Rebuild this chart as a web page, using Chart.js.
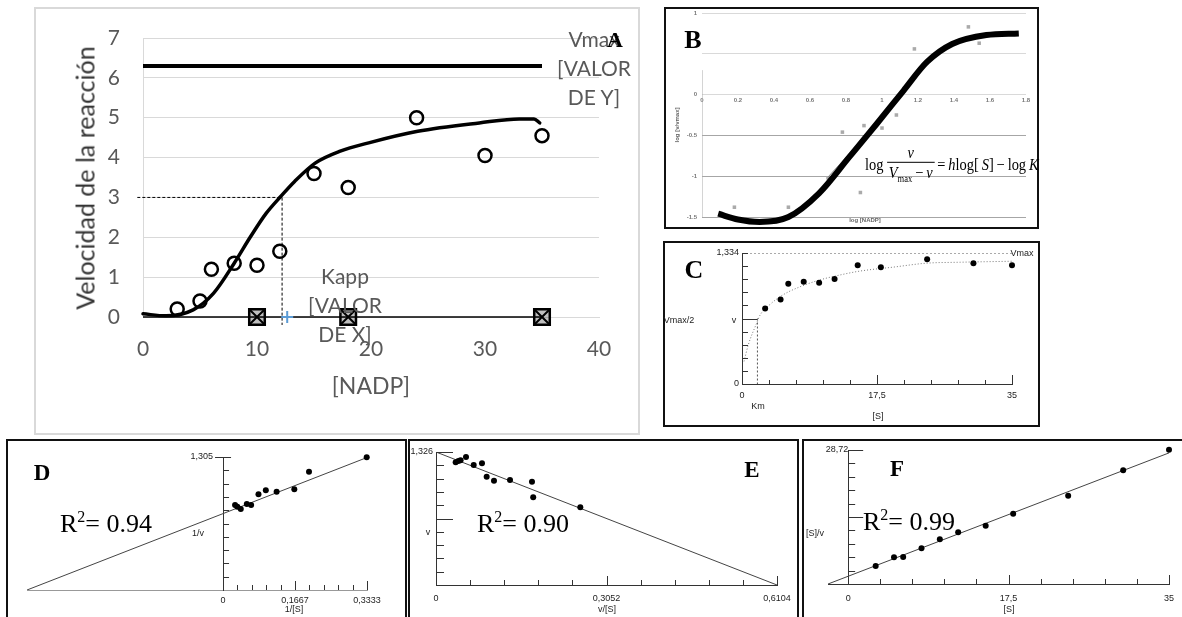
<!DOCTYPE html>
<html>
<head>
<meta charset="utf-8">
<script src="https://cdn.jsdelivr.net/npm/chart.js@4.4.0/dist/chart.umd.min.js"></script>
<style>
body{margin:0;width:1182px;height:617px;overflow:hidden;background:#fff;position:relative;font-family:"Liberation Sans",Arial,sans-serif}
.box{position:absolute;box-sizing:border-box}
canvas{position:absolute}
.t{position:absolute;white-space:nowrap;line-height:1;transform:translate(-50%,-50%)}
.lt{position:absolute;white-space:nowrap;line-height:1;transform:translate(0,-50%)}
.ser{font-family:"Liberation Serif","Times New Roman",serif}
.let{font-family:"Liberation Serif","Times New Roman",serif;font-weight:bold;color:#000}
.sm{font-size:9px;color:#222}
.xl{font-family:Lato,"Liberation Sans",sans-serif;color:#595959}
</style>
</head>
<body>
<div class="box" style="left:34px;top:7px;width:606px;height:428px;border:2px solid #d9d9d9"></div>
<div class="box" style="left:664px;top:7px;width:375px;height:222px;border:2px solid #111"></div>
<div class="box" style="left:663px;top:241px;width:377px;height:186px;border:2px solid #111"></div>
<div class="box" style="left:6px;top:439px;width:401px;height:185px;border:2px solid #111"></div>
<div class="box" style="left:408px;top:439px;width:391px;height:185px;border:2px solid #111"></div>
<div class="box" style="left:802px;top:439px;width:382px;height:185px;border:2px solid #111"></div>

<canvas id="cA"></canvas>
<canvas id="cB"></canvas>
<canvas id="cC"></canvas>
<canvas id="cD"></canvas>
<canvas id="cE"></canvas>
<canvas id="cF"></canvas>

<!-- panel A texts -->
<div class="t xl" style="left:85px;top:178px;font-size:25px;color:#333;transform:translate(-50%,-50%) rotate(-90deg)">Velocidad de la reacción</div>
<div class="t xl" style="left:371px;top:385px;font-size:23px">[NADP]</div>
<div class="t xl" style="left:594px;top:67px;font-size:21px;line-height:29px;text-align:center">Vmax<br>[VALOR<br>DE Y]</div>
<div class="t xl" style="left:345px;top:304px;font-size:21px;line-height:29px;text-align:center">Kapp<br>[VALOR<br>DE X]</div>
<div class="t let" style="left:615px;top:40px;font-size:22px">A</div>

<!-- panel B texts -->
<div class="t let" style="left:693px;top:40px;font-size:26px">B</div>
<div class="t" style="left:865px;top:220px;font-size:6px;font-weight:bold;color:#666">log [NADP]</div>
<div class="t" style="left:677px;top:125px;font-size:6px;font-weight:bold;color:#666;transform:translate(-50%,-50%) rotate(-90deg)">log [v/vmax]</div>
<div class="lt ser" style="left:865px;top:164px;font-size:17px;display:flex;align-items:center;transform:translate(0,-50%) scaleX(0.85);transform-origin:left center">
  <span>log&nbsp;</span>
  <span style="display:inline-flex;flex-direction:column;align-items:center">
    <span style="font-style:italic;padding:0 4px 1px">v</span>
    <span style="border-top:1px solid #000;padding:1px 2px 0"><i>V</i><sub style="font-size:10px">max</sub>&thinsp;−&thinsp;<i>v</i></span>
  </span>
  <span>&thinsp;=&thinsp;<i>h</i>log[&thinsp;<i>S</i>]&thinsp;−&thinsp;log&thinsp;<i>K</i></span>
</div>

<!-- panel C texts -->
<div class="t let" style="left:694px;top:270px;font-size:26px">C</div>
<div class="t sm" style="left:1022px;top:253px">Vmax</div>
<div class="t sm" style="left:679px;top:320px">Vmax/2</div>
<div class="t sm" style="left:734px;top:320px">v</div>
<div class="t sm" style="left:758px;top:406px">Km</div>
<div class="t sm" style="left:878px;top:416px">[S]</div>

<!-- panel D texts -->
<div class="t let" style="left:42px;top:472px;font-size:23px">D</div>
<div class="t sm" style="left:198px;top:533px">1/v</div>
<div class="t sm" style="left:294px;top:609px">1/[S]</div>
<div class="lt ser" style="left:60px;top:523px;font-size:26px">R<sup style="font-size:16px">2</sup>= 0.94</div>

<!-- panel E texts -->
<div class="t let" style="left:752px;top:469px;font-size:23px">E</div>
<div class="t sm" style="left:428px;top:532px">v</div>
<div class="t sm" style="left:607px;top:609px">v/[S]</div>
<div class="lt ser" style="left:477px;top:523px;font-size:26px">R<sup style="font-size:16px">2</sup>= 0.90</div>

<!-- panel F texts -->
<div class="t let" style="left:897px;top:468px;font-size:23px">F</div>
<div class="t sm" style="left:815px;top:533px">[S]/v</div>
<div class="t sm" style="left:1009px;top:609px">[S]</div>
<div class="lt ser" style="left:863px;top:521px;font-size:26px">R<sup style="font-size:16px">2</sup>= 0.99</div>

<script>
// ---- A: velocidad vs [NADP]
var aNADP = [3, 5, 6, 8, 10, 12, 15, 18, 24, 30, 35];
var aVel = [0.2, 0.4, 1.2, 1.35, 1.3, 1.65, 3.6, 3.25, 5.0, 4.05, 4.55];
var aFitX = [0, 2, 4.4, 6.2, 8, 9.4, 10.8, 12.1, 13.3, 15.1, 17.3, 19.8, 24.1, 29.5, 33, 34.3, 34.8];
var aFitY = [0.08, 0.03, 0.18, 0.6, 1.35, 2.0, 2.6, 3.03, 3.4, 3.86, 4.16, 4.37, 4.66, 4.87, 4.97, 4.97, 4.87];
var aVmax = 6.3;
var aVmaxX = [0, 35];
var aBaseX = [0, 10, 18, 35];
var aBaseY = [0, 0, 0, 0];
var aKapp = 12.2, aHalf = 3, aBlue = 12.65;
var aXTicks = [0, 10, 20, 30, 40];
var aYTicks = [0, 1, 2, 3, 4, 5, 6, 7];

// ---- B: Hill plot
var bLogS = [0.18, 0.48, 0.70, 0.78, 0.88, 0.90, 1.00, 1.08, 1.18, 1.25, 1.48, 1.54];
var bLogV = [-1.38, -1.38, -1.02, -0.46, -1.20, -0.38, -0.41, -0.25, 0.56, 0.39, 0.83, 0.63];
var bCurveX = [0.09, 0.2, 0.32, 0.48, 0.65, 0.82, 0.97, 1.12, 1.25, 1.39, 1.58, 1.76];
var bCurveY = [-1.46, -1.53, -1.56, -1.50, -1.21, -0.76, -0.36, 0.05, 0.40, 0.62, 0.73, 0.75];
var bThinX = [0.70, 1.04];
var bThinY = [-1.01, -0.19];
var bAxisY = [-1.5, 0.3];
var bXTicks = [0, 0.2, 0.4, 0.6, 0.8, 1, 1.2, 1.4, 1.6, 1.8];
var bXLabels = ['0', '0.2', '0.4', '0.6', '0.8', '1', '1.2', '1.4', '1.6', '1.8'];
var bYTicks = [-1.5, -1, -0.5, 0, 0.5, 1];
var bYLabels = ['-1.5', '-1', '-0.5', '0', '', '1'];

// ---- C: Michaelis-Menten
var cS = [3, 5, 6, 8, 10, 12, 15, 18, 24, 30, 35];
var cV = [0.77, 0.86, 1.02, 1.04, 1.03, 1.07, 1.21, 1.19, 1.27, 1.23, 1.21];
var cFitS = [0.26, 0.82, 1.9, 2.33, 3.63, 5.36, 7.52, 10.1, 12.7, 15.3, 19.6, 23.9, 28.3, 35];
var cFitV = [0.23, 0.40, 0.62, 0.70, 0.81, 0.91, 0.99, 1.06, 1.11, 1.15, 1.19, 1.23, 1.24, 1.25];
var cVmax = 1.334, cKm = 2.0;
var cXLabels = ['0', '', '', '', '', '17,5', '', '', '', '', '35'];
var cYLabels = ['0', '', '', '', '', '', '', '', '', '', '1,334'];

// ---- D: Lineweaver-Burk
var dInvS = [0.0278, 0.033, 0.041, 0.055, 0.065, 0.082, 0.099, 0.124, 0.165, 0.199, 0.3326];
var dInvV = [0.834, 0.817, 0.795, 0.844, 0.834, 0.939, 0.978, 0.965, 0.988, 1.161, 1.302];
var dFitX = [-0.454, 0.3333];
var dFitY = [0, 1.30];
var dXLabels = ['0', '', '', '', '', '0,1667', '', '', '', '', '0,3333'];
var dYLabels = ['', '', '', '', '', '', '', '', '', '', '1,305    '];

// ---- E: Eadie-Hofstee
var eVS = [0.0352, 0.040, 0.044, 0.0537, 0.0675, 0.0823, 0.0907, 0.1038, 0.1325, 0.1718, 0.174, 0.2583];
var eV = [1.223, 1.236, 1.243, 1.276, 1.196, 1.213, 1.080, 1.040, 1.047, 1.030, 0.874, 0.775];
var eFitX = [0, 0.6104];
var eFitY = [1.326, 0];
var eXLabels = ['0', '', '', '', '', '0,3052', '', '', '', '', '0,6104'];
var eYLabels = ['', '', '', '', '', '', '', '', '', '', '1,326'];

// ---- F: Hanes-Woolf
var fS = [3, 5, 6, 8, 10, 12, 15, 18, 24, 30, 35];
var fSV = [3.86, 5.72, 5.79, 7.65, 9.57, 11.07, 12.5, 15.07, 18.93, 24.36, 28.78];
var fFitX = [-2.2, 35];
var fFitY = [0, 28.1];
var fXLabels = ['0', '', '', '', '', '17,5', '', '', '', '', '35'];
var fYLabels = ['', '', '', '', '', '', '', '', '', '', '28,72'];

Chart.defaults.animation = false;
Chart.defaults.responsive = false;
Chart.defaults.devicePixelRatio = 1;
Chart.defaults.plugins.legend.display = false;
Chart.defaults.plugins.tooltip.enabled = false;
Chart.defaults.font.family = '"Liberation Sans", Arial, sans-serif';

function xy(xs, ys) { return xs.map(function (x, i) { return {x: x, y: ys[i]}; }); }
function tenths(max) { var t = []; for (var i = 0; i <= 10; i++) t.push(max * i / 10); return t; }
function setup(id, box, area) {
  var c = document.getElementById(id);
  c.width = box.r - box.l; c.height = box.b - box.t;
  c.style.left = box.l + 'px'; c.style.top = box.t + 'px';
  return {el: c, yW: area.l - box.l, xH: box.b - area.b,
          padding: {left: 0, top: area.t - box.t, right: box.r - area.r, bottom: 0}};
}
function fixTicks(vals) { return function (s) { s.ticks = vals.map(function (v) { return {value: v}; }); }; }
function noPad(s) { s.paddingLeft = 0; s.paddingRight = 0; s.paddingTop = 0; s.paddingBottom = 0; }
function fitW(w) { return function (s) { s.width = w; noPad(s); }; }
function fitH(h) { return function (s) { s.height = h; noPad(s); }; }
function line(d, o) {
  var base = {data: d, showLine: true, pointRadius: 0, borderColor: '#000', borderWidth: 1, fill: false};
  for (var k in o) base[k] = o[k];
  return base;
}
function dots(d, r) {
  return {data: d, showLine: false, pointRadius: r, pointStyle: 'circle', backgroundColor: '#000', borderColor: '#000', borderWidth: 0, clip: false};
}

// small tick marks drawn inside the plot, from the axis lines
var innerTicks = {
  id: 'innerTicks',
  afterDraw: function (chart, args, o) {
    if (!o || !o.on) return;
    var ctx = chart.ctx, xs = chart.scales.x, ys = chart.scales.y;
    var x0 = xs.getPixelForValue(0), y0 = ys.getPixelForValue(0);
    ctx.save();
    ctx.strokeStyle = o.color || '#444';
    ctx.lineWidth = 1;
    ctx.beginPath();
    xs.ticks.forEach(function (t, i) {
      var px = Math.round(xs.getPixelForValue(t.value)) + 0.5;
      var len = o.xMajor.indexOf(i) >= 0 ? o.xLong : o.xShort;
      ctx.moveTo(px, y0); ctx.lineTo(px, y0 - len);
    });
    ys.ticks.forEach(function (t, i) {
      if (i === 0) return;
      var py = Math.round(ys.getPixelForValue(t.value)) + 0.5;
      var len = o.yMajor.indexOf(i) >= 0 ? o.yLong : o.yShort;
      var left = (o.yLeft && o.yLeft[i]) || 0;
      ctx.moveTo(x0 - left, py); ctx.lineTo(x0 + len, py);
    });
    ctx.stroke();
    ctx.restore();
  }
};
Chart.register(innerTicks);

var small = {size: 9};

// ---------- A
var A = setup('cA', {l: 34, t: 7, r: 640, b: 435}, {l: 143, t: 38, r: 599, b: 317});
new Chart(A.el, {
  type: 'scatter',
  data: {datasets: [
    {data: [{x: aBlue, y: 0}], showLine: false, pointStyle: 'cross', pointRadius: 6, borderColor: '#5b9bd5', borderWidth: 2, clip: false},
    {data: xy(aNADP, aVel), showLine: false, pointStyle: 'circle', pointRadius: 6.5, borderWidth: 2.5, borderColor: '#000', backgroundColor: 'rgba(0,0,0,0)', clip: false},
    {data: xy(aBaseX.slice(1), aBaseY.slice(1)), showLine: false, pointStyle: 'crossRot', pointRadius: 10, borderWidth: 2, borderColor: '#000', clip: false},
    {data: xy(aBaseX.slice(1), aBaseY.slice(1)), showLine: false, pointStyle: 'rect', pointRadius: 11, borderWidth: 2.5, borderColor: '#000', backgroundColor: 'rgba(0,0,0,0.25)', clip: false},
    line(xy(aBaseX, aBaseY), {borderWidth: 1.5, clip: false}),
    line(xy(aFitX, aFitY), {borderWidth: 3.5, cubicInterpolationMode: 'monotone', borderCapStyle: 'round', clip: false}),
    line(xy(aVmaxX, [aVmax, aVmax]), {borderWidth: 4}),
    line([{x: -0.5, y: aHalf}, {x: aKapp, y: aHalf}, {x: aKapp, y: -0.2}], {borderDash: [3, 2], borderWidth: 1, clip: false})
  ]},
  options: {
    layout: {padding: A.padding},
    scales: {
      x: {type: 'linear', min: 0, max: 40, afterFit: fitH(A.xH), afterBuildTicks: fixTicks(aXTicks),
          grid: {display: false, drawTicks: false}, border: {display: true, color: '#d9d9d9'},
          ticks: {font: {family: 'Lato', size: 21}, color: '#595959', padding: 20, maxRotation: 0, autoSkip: false}},
      y: {type: 'linear', min: 0, max: 7, afterFit: fitW(A.yW), afterBuildTicks: fixTicks(aYTicks),
          grid: {color: '#d9d9d9', drawTicks: false}, border: {display: true, color: '#d9d9d9'},
          ticks: {font: {family: 'Lato', size: 21}, color: '#595959', padding: 23, autoSkip: false}}
    }
  }
});

// ---------- B
var B = setup('cB', {l: 666, t: 9, r: 1037, b: 227}, {l: 702, t: 13, r: 1026, b: 217});
B.padding.bottom = 10;
new Chart(B.el, {
  type: 'scatter',
  data: {datasets: [
    line(xy(bCurveX, bCurveY), {borderWidth: 6, cubicInterpolationMode: 'monotone', clip: false}),
    line(xy(bThinX, bThinY), {borderColor: '#888', borderWidth: 1}),
    {data: xy(bLogS, bLogV), showLine: false, pointStyle: 'rect', pointRadius: 2.5, backgroundColor: '#aaa', borderColor: '#999', borderWidth: 0},
    line(xy([0, 0], bAxisY), {borderColor: '#aaa', borderWidth: 1})
  ]},
  options: {
    layout: {padding: B.padding},
    scales: {
      x: {type: 'linear', min: 0, max: 1.8, position: {y: 0}, afterFit: noPad, afterBuildTicks: fixTicks(bXTicks),
          grid: {display: false, drawTicks: false}, border: {display: false},
          ticks: {font: {size: 6, weight: 'bold'}, color: '#777', padding: 2, maxRotation: 0, autoSkip: false,
                  callback: function (v, i) { return bXLabels[i]; }}},
      y: {type: 'linear', min: -1.5, max: 1, afterFit: fitW(B.yW), afterBuildTicks: fixTicks(bYTicks),
          grid: {drawTicks: false, color: function (c) { return c.tick && c.tick.value < -0.25 ? '#a6a6a6' : '#d9d9d9'; }},
          border: {display: false},
          ticks: {font: {size: 6, weight: 'bold'}, color: '#777', padding: 5, autoSkip: false,
                  callback: function (v, i) { return bYLabels[i]; }}}
    }
  }
});

// ---------- C
var C = setup('cC', {l: 665, t: 243, r: 1038, b: 425}, {l: 742, t: 253, r: 1012, b: 384});
new Chart(C.el, {
  type: 'scatter',
  data: {datasets: [
    dots(xy(cS, cV), 3),
    line(xy(cFitS, cFitV), {borderColor: '#777', borderDash: [1, 2], cubicInterpolationMode: 'monotone'}),
    line([{x: 0, y: cVmax}, {x: 35, y: cVmax}], {borderColor: '#555', borderDash: [2, 2]}),
    line([{x: cKm, y: cVmax / 2}, {x: cKm, y: 0}], {borderColor: '#555', borderDash: [2, 2]})
  ]},
  options: {
    layout: {padding: C.padding},
    plugins: {innerTicks: {on: true, color: '#333', xMajor: [5, 10], xShort: 4, xLong: 9, yMajor: [5], yShort: 6, yLong: 15}},
    scales: {
      x: {type: 'linear', min: 0, max: 35, afterFit: fitH(C.xH), afterBuildTicks: fixTicks(tenths(35)),
          grid: {display: false, drawTicks: false}, border: {display: true, color: '#333'},
          ticks: {font: small, color: '#222', padding: 6, maxRotation: 0, autoSkip: false,
                  callback: function (v, i) { return cXLabels[i]; }}},
      y: {type: 'linear', min: 0, max: cVmax, afterFit: fitW(C.yW), afterBuildTicks: fixTicks(tenths(cVmax)),
          grid: {display: false, drawTicks: false}, border: {display: true, color: '#333'},
          ticks: {font: small, color: '#222', padding: 3, autoSkip: false,
                  callback: function (v, i) { return cYLabels[i]; }}}
    }
  }
});

// ---------- D
var D = setup('cD', {l: 8, t: 441, r: 405, b: 617}, {l: 27, t: 457, r: 367, b: 590});
D.padding.left = D.yW;
new Chart(D.el, {
  type: 'scatter',
  data: {datasets: [
    dots(xy(dInvS, dInvV), 3),
    line(xy(dFitX, dFitY), {borderColor: '#444'})
  ]},
  options: {
    layout: {padding: D.padding},
    plugins: {innerTicks: {on: true, color: '#333', xMajor: [5, 10], xShort: 5, xLong: 9, yMajor: [10], yShort: 6, yLong: 8, yLeft: {10: 8}}},
    scales: {
      x: {type: 'linear', min: -0.454, max: 0.3333, afterFit: fitH(D.xH), afterBuildTicks: fixTicks(tenths(0.3333)),
          grid: {display: false, drawTicks: false}, border: {display: true, color: '#999'},
          ticks: {font: small, color: '#222', padding: 5, maxRotation: 0, autoSkip: false,
                  callback: function (v, i) { return dXLabels[i]; }}},
      y: {type: 'linear', min: 0, max: 1.305, position: {x: 0}, afterFit: noPad, afterBuildTicks: fixTicks(tenths(1.305)),
          grid: {display: false, drawTicks: false}, border: {display: true, color: '#333'},
          ticks: {font: small, color: '#222', padding: 0, autoSkip: false,
                  callback: function (v, i) { return dYLabels[i]; }}}
    }
  }
});

// ---------- E
var E = setup('cE', {l: 410, t: 441, r: 797, b: 617}, {l: 436, t: 452, r: 777, b: 585});
new Chart(E.el, {
  type: 'scatter',
  data: {datasets: [
    dots(xy(eVS, eV), 3),
    line(xy(eFitX, eFitY), {borderColor: '#444'})
  ]},
  options: {
    layout: {padding: E.padding},
    plugins: {innerTicks: {on: true, color: '#333', xMajor: [5, 10], xShort: 5, xLong: 9, yMajor: [5, 10], yShort: 8, yLong: 17}},
    scales: {
      x: {type: 'linear', min: 0, max: 0.6104, afterFit: fitH(E.xH), afterBuildTicks: fixTicks(tenths(0.6104)),
          grid: {display: false, drawTicks: false}, border: {display: true, color: '#333'},
          ticks: {font: small, color: '#222', padding: 8, maxRotation: 0, autoSkip: false,
                  callback: function (v, i) { return eXLabels[i]; }}},
      y: {type: 'linear', min: 0, max: 1.326, afterFit: fitW(E.yW), afterBuildTicks: fixTicks(tenths(1.326)),
          grid: {display: false, drawTicks: false}, border: {display: true, color: '#333'},
          ticks: {font: small, color: '#222', padding: 3, autoSkip: false,
                  callback: function (v, i) { return eYLabels[i]; }}}
    }
  }
});

// ---------- F
var F = setup('cF', {l: 804, t: 441, r: 1182, b: 617}, {l: 828, t: 450, r: 1169, b: 584});
F.padding.left = F.yW;
new Chart(F.el, {
  type: 'scatter',
  data: {datasets: [
    dots(xy(fS, fSV), 3),
    line(xy(fFitX, fFitY), {borderColor: '#444'})
  ]},
  options: {
    layout: {padding: F.padding},
    plugins: {innerTicks: {on: true, color: '#333', xMajor: [5, 10], xShort: 5, xLong: 9, yMajor: [5, 10], yShort: 7, yLong: 15}},
    scales: {
      x: {type: 'linear', min: -2.2, max: 35, afterFit: fitH(F.xH), afterBuildTicks: fixTicks(tenths(35)),
          grid: {display: false, drawTicks: false}, border: {display: true, color: '#333'},
          ticks: {font: small, color: '#222', padding: 9, maxRotation: 0, autoSkip: false,
                  callback: function (v, i) { return fXLabels[i]; }}},
      y: {type: 'linear', min: 0, max: 28.72, position: {x: 0}, afterFit: noPad, afterBuildTicks: fixTicks(tenths(28.72)),
          grid: {display: false, drawTicks: false}, border: {display: true, color: '#333'},
          ticks: {font: small, color: '#222', padding: 0, autoSkip: false,
                  callback: function (v, i) { return fYLabels[i]; }}}
    }
  }
});
</script>
</body>
</html>
